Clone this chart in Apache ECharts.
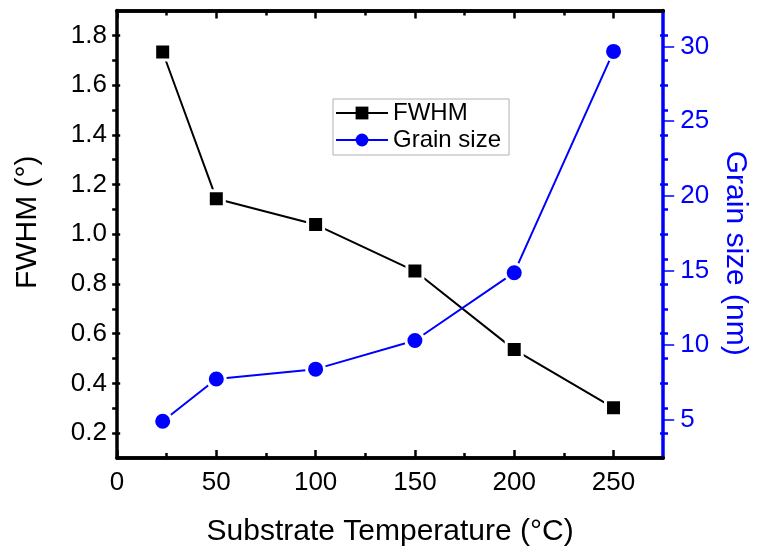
<!DOCTYPE html>
<html>
<head>
<meta charset="utf-8">
<script src="https://cdn.jsdelivr.net/npm/echarts@6/dist/echarts.min.js"></script>
<style>
  html, body { margin: 0; padding: 0; background: #fff; }
  #chart { width: 758px; height: 552px; }
</style>
</head>
<body>
<div id="chart"></div>
<script>
// Substrate temperature (°C)
const temperature = [23, 50, 100, 150, 200, 250];
// XRD peak FWHM (degrees)
const fwhm = [1.733, 1.143, 1.039, 0.852, 0.536, 0.302];
// Crystallite grain size (nm)
const grainSize = [4.9, 7.73, 8.39, 10.31, 14.85, 29.67];

// Tick positions
const xMajorTicks = [0, 50, 100, 150, 200, 250];
const xMinorTicks = [25, 75, 125, 175, 225];
const fwhmMajorTicks = [0.2, 0.4, 0.6, 0.8, 1.0, 1.2, 1.4, 1.6, 1.8];
const fwhmMinorTicks = [0.3, 0.5, 0.7, 0.9, 1.1, 1.3, 1.5, 1.7];
const grainTicks = [5, 10, 15, 20, 25, 30];

const FONT = '"Liberation Sans", Arial, Helvetica, sans-serif';
const BLACK = '#000000';
const BLUE = '#0000ff';
const AXIS_W = 3.5;

const X_MIN = 0, X_MAX = 275;
const F_MIN = 0.1, F_MAX = 1.9;
const G_MIN = 2.44, G_MAX = 32.41;
const GRID = { left: 117, right: 90, top: 10.5, bottom: 91 };
const PLOT_W = 758 - GRID.left - GRID.right;

// Tick-only horizontal frame edge with ticks pointing into the plot
function tickOnlyX(position, ticks, len) {
  return {
    type: 'value', position: position, min: X_MIN, max: X_MAX,
    axisLine: { show: true, onZero: false, lineStyle: { color: BLACK, width: AXIS_W } },
    axisTick: { show: true, inside: true, length: len, customValues: ticks,
                lineStyle: { color: BLACK, width: 2.5 } },
    axisLabel: { show: false }, splitLine: { show: false }
  };
}
// Inward ticks for a vertical frame edge: the axis is declared on the opposite
// side and shifted across the plot, so its outward ticks point into the plot.
function tickOnlyY(edge, ticks, len, color) {
  return {
    type: 'value', position: edge === 'left' ? 'right' : 'left', offset: -PLOT_W,
    min: F_MIN, max: F_MAX,
    axisLine: { show: false, onZero: false },
    axisTick: { show: true, inside: false, length: len, customValues: ticks,
                lineStyle: { color: color, width: 2.5 } },
    axisLabel: { show: false }, splitLine: { show: false }
  };
}

const chart = echarts.init(document.getElementById('chart'), null, { renderer: 'canvas' });

chart.setOption({
  backgroundColor: '#ffffff',
  animation: false,
  textStyle: { fontFamily: FONT },
  grid: Object.assign({ containLabel: false }, GRID),
  legend: {
    orient: 'vertical',
    left: 333, top: 99,
    itemWidth: 52, itemHeight: 16, itemGap: 3,
    padding: [2, 8, 3, 2],
    borderColor: '#b0b0b0', borderWidth: 1,
    textStyle: { fontFamily: FONT, fontSize: 24, color: BLACK },
    itemStyle: { borderWidth: 0 },
    data: ['FWHM', 'Grain size']
  },
  xAxis: [
    {
      type: 'value', position: 'bottom', min: X_MIN, max: X_MAX,
      name: 'Substrate Temperature (°C)', nameLocation: 'middle', nameGap: 59,
      nameTextStyle: { fontFamily: FONT, fontSize: 30, color: BLACK },
      axisLine: { show: true, onZero: false, lineStyle: { color: BLACK, width: AXIS_W } },
      axisTick: { show: true, inside: true, length: 8, customValues: xMajorTicks,
                  lineStyle: { color: BLACK, width: 2.5 } },
      axisLabel: { show: true, customValues: xMajorTicks, margin: 12,
                   fontFamily: FONT, fontSize: 26, color: BLACK },
      splitLine: { show: false }
    },
    tickOnlyX('bottom', xMinorTicks, 5),
    tickOnlyX('top', xMajorTicks, 8),
    tickOnlyX('top', xMinorTicks, 5)
  ],
  yAxis: [
    {
      type: 'value', position: 'left', min: F_MIN, max: F_MAX,
      name: 'FWHM (°)', nameLocation: 'middle', nameGap: 74, nameRotate: 90,
      nameTextStyle: { fontFamily: FONT, fontSize: 30, color: BLACK, padding: [0, 0, 0, 24] },
      axisLine: { show: true, onZero: false, lineStyle: { color: BLACK, width: AXIS_W } },
      axisTick: { show: false },
      axisLabel: { show: true, customValues: fwhmMajorTicks, margin: 10,
                   fontFamily: FONT, fontSize: 26, color: BLACK,
                   formatter: v => v.toFixed(1) },
      splitLine: { show: false }
    },
    tickOnlyY('left', fwhmMajorTicks, 8, BLACK),
    tickOnlyY('left', fwhmMinorTicks, 5, BLACK),
    tickOnlyY('right', fwhmMajorTicks, 8, BLUE),
    tickOnlyY('right', fwhmMinorTicks, 5, BLUE),
    {
      type: 'value', position: 'right', min: G_MIN, max: G_MAX,
      name: 'Grain size (nm)', nameLocation: 'middle', nameGap: 56, nameRotate: -90,
      nameTextStyle: { fontFamily: FONT, fontSize: 30, color: BLUE, padding: [0, 0, 0, 38] },
      axisLine: { show: true, onZero: false, lineStyle: { color: BLUE, width: AXIS_W } },
      axisTick: { show: true, inside: false, length: 11, customValues: grainTicks,
                  lineStyle: { color: BLUE, width: 1.5 } },
      axisLabel: { show: true, customValues: grainTicks, margin: 17,
                   fontFamily: FONT, fontSize: 26, color: BLUE },
      splitLine: { show: false }
    }
  ],
  series: [
    {
      name: 'FWHM', type: 'line', xAxisIndex: 0, yAxisIndex: 0,
      data: temperature.map((t, i) => [t, fwhm[i]]),
      symbol: 'rect', symbolSize: 16,
      lineStyle: { color: BLACK, width: 2 },
      itemStyle: { color: BLACK, borderColor: '#ffffff', borderWidth: 3 },
      z: 3
    },
    {
      name: 'Grain size', type: 'line', xAxisIndex: 0, yAxisIndex: 5,
      data: temperature.map((t, i) => [t, grainSize[i]]),
      symbol: 'circle', symbolSize: 18,
      lineStyle: { color: BLUE, width: 2 },
      itemStyle: { color: BLUE, borderColor: '#ffffff', borderWidth: 3 },
      z: 4
    }
  ]
});
</script>
</body>
</html>
